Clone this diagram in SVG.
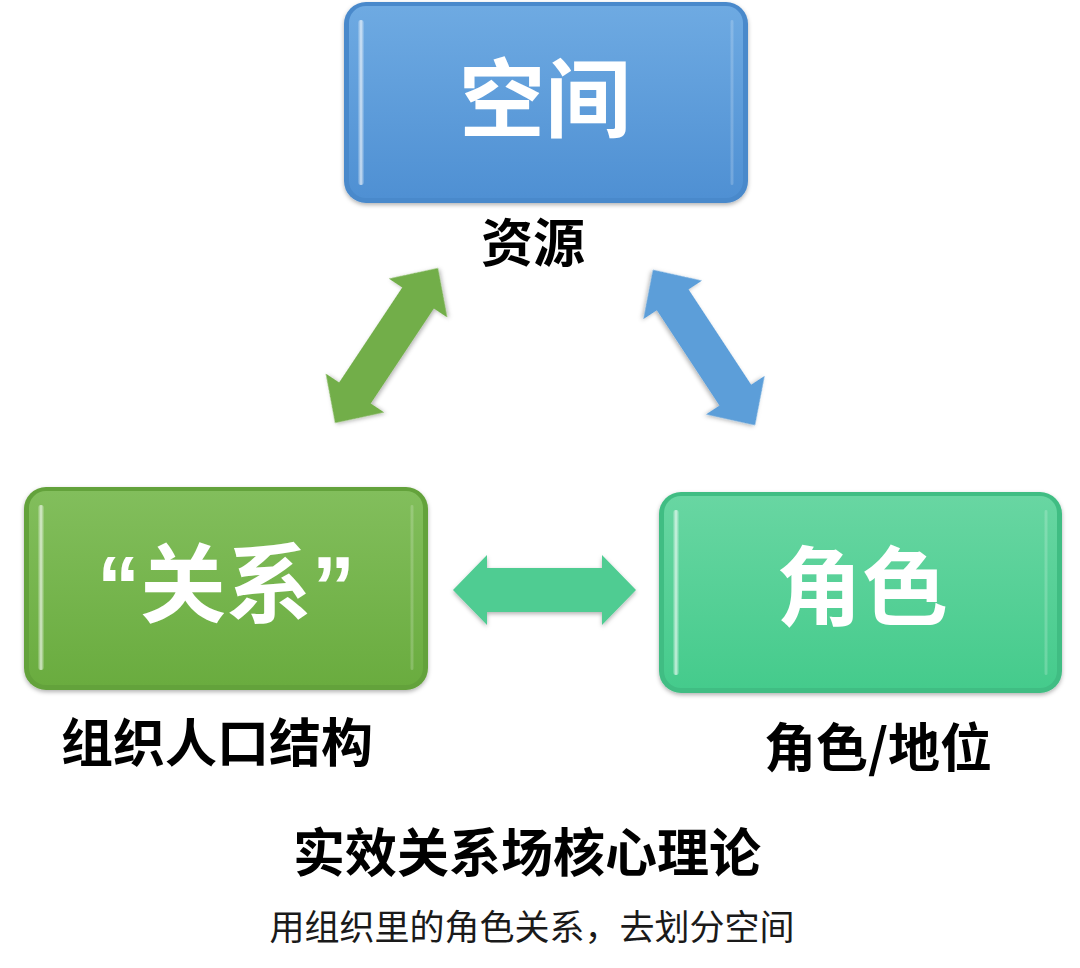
<svg xmlns="http://www.w3.org/2000/svg" width="1080" height="968" viewBox="0 0 1080 968">
<defs>
<linearGradient id="gBlue" x1="0" y1="0" x2="0" y2="1"><stop offset="0" stop-color="#6eaae2"/><stop offset="1" stop-color="#4f90d3"/></linearGradient>
<linearGradient id="gGreen" x1="0" y1="0" x2="0" y2="1"><stop offset="0" stop-color="#82be5c"/><stop offset="1" stop-color="#6aac3f"/></linearGradient>
<linearGradient id="gTeal" x1="0" y1="0" x2="0" y2="1"><stop offset="0" stop-color="#68d6a2"/><stop offset="1" stop-color="#45cb8c"/></linearGradient>
<linearGradient id="hl" x1="0" y1="0" x2="1" y2="0"><stop offset="0" stop-color="#ffffff" stop-opacity="0.1"/><stop offset="0.5" stop-color="#ffffff" stop-opacity="0.7"/><stop offset="1" stop-color="#ffffff" stop-opacity="0.1"/></linearGradient>
<filter id="sh" x="-5%" y="-5%" width="110%" height="115%"><feDropShadow dx="0" dy="2" stdDeviation="2" flood-color="#000" flood-opacity="0.3"/></filter>
<path id="arr186" d="M-93,0 L-57,-35 L-57,-19 L57,-19 L57,-35 L93,0 L57,35 L57,19 L-57,19 L-57,35 Z"/>
</defs>
<style>
.lbl{font-family:"Noto Sans CJK SC","Noto Sans CJK JP",sans-serif;font-weight:700;fill:#000;text-anchor:middle}
.big{font-family:"Liberation Sans","Noto Sans CJK SC",sans-serif;font-weight:700;fill:#fff;text-anchor:middle;font-size:86px}
.sub{font-family:"Noto Sans CJK SC","Noto Sans CJK JP",sans-serif;font-weight:400;fill:#1a1a1a;text-anchor:middle;font-size:35px}
.hlb{fill:url(#hl)}
</style>
<rect width="1080" height="968" fill="#ffffff"/>

<g id="connectors">
<use href="#arr186" transform="translate(386.5,345.5) rotate(-56.4)" fill="#72ae48" filter="url(#sh)"/>
<use href="#arr186" transform="translate(704,347.5) rotate(56.7)" fill="#5b9ed9" filter="url(#sh)"/>
<path d="M453,590 L487,555 L487,568 L602,568 L602,555 L636,590 L602,625 L602,612 L487,612 L487,625 Z" fill="#50cc92" filter="url(#sh)"/>
</g>

<g id="node-space">
<rect x="344" y="2" width="404" height="201" rx="22" fill="#4a89cb" filter="url(#sh)"/>
<rect x="349" y="6" width="394" height="192" rx="17" fill="url(#gBlue)"/>
<rect x="358" y="20" width="6" height="165" rx="3" class="hlb"/>
<rect x="730" y="20" width="4" height="165" rx="2" class="hlb" opacity="0.35"/>
<text class="big" x="545" y="131">空间</text>
</g>

<g id="node-relation">
<rect x="24" y="487" width="404" height="203" rx="22" fill="#64a23b" filter="url(#sh)"/>
<rect x="29" y="491" width="394" height="194" rx="17" fill="url(#gGreen)"/>
<rect x="38" y="505" width="6" height="165" rx="3" class="hlb"/>
<rect x="410" y="505" width="4" height="165" rx="2" class="hlb" opacity="0.35"/>
<text class="big" x="226" y="616">“关系”</text>
</g>

<g id="node-role">
<rect x="659" y="492" width="403" height="201" rx="22" fill="#40bd83" filter="url(#sh)"/>
<rect x="664" y="496" width="393" height="192" rx="17" fill="url(#gTeal)"/>
<rect x="673" y="510" width="6" height="165" rx="3" class="hlb"/>
<rect x="1044" y="510" width="4" height="165" rx="2" class="hlb" opacity="0.35"/>
<text class="big" x="862" y="619">角色</text>
</g>

<g id="labels">
<text class="lbl" x="533" y="262" font-size="52">资源</text>
<text class="lbl" x="217" y="762" font-size="52">组织人口结构</text>
<text class="lbl" x="878" y="767" font-size="52">角色/地位</text>
<text class="lbl" x="527" y="872" font-size="52">实效关系场核心理论</text>
<text class="sub" x="532" y="940">用组织里的角色关系，去划分空间</text>
</g>
</svg>
